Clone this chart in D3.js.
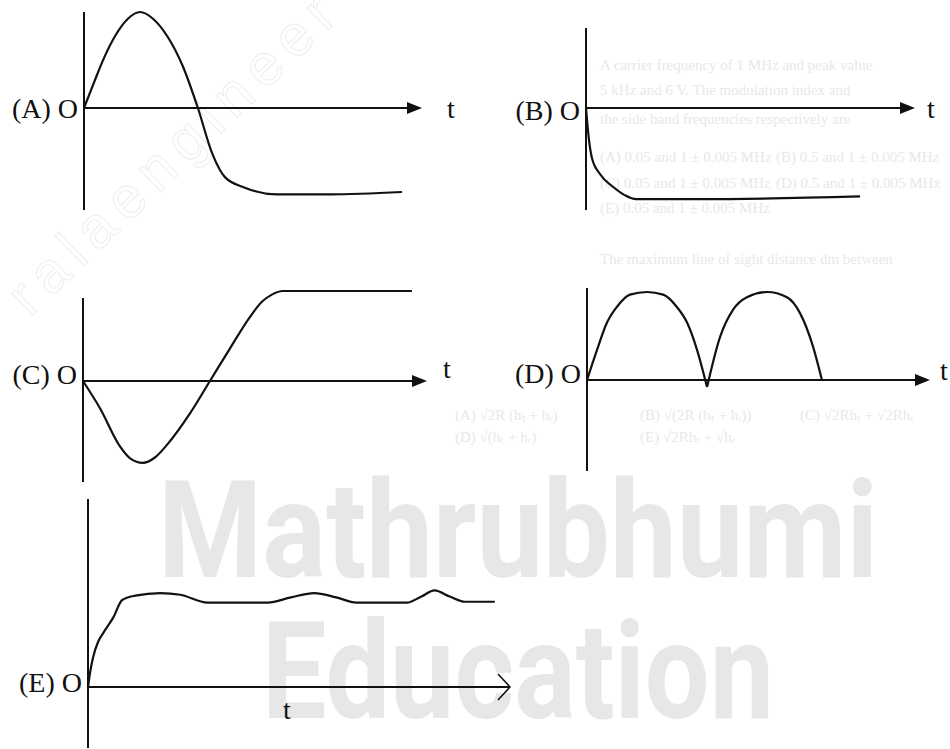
<!DOCTYPE html>
<html>
<head>
<meta charset="utf-8">
<script src="https://cdn.jsdelivr.net/npm/d3@7"></script>
<style>
    html, body { margin: 0; padding: 0; background: #fff; }
    svg { display: block; }
</style>
</head>
<body>
<svg id="drawing_region"></svg>
<script>
// time runs 0..100 along each t axis, values are relative to the panel's height unit
const aTime  = [0, 3.0, 5.9, 9.2, 13, 16.6, 20.4, 24.6, 29.3, 33.7, 37.9, 41.7, 47.6, 57.1, 72.8, 94.1];
const aValue = [0, 0.27, 0.52, 0.75, 0.93, 1.0, 0.93, 0.75, 0.43, 0, -0.47, -0.72, -0.83, -0.9, -0.9, -0.875];

const bTime  = [0, 0.45, 0.9, 1.8, 4.3, 8.2, 11.9, 15.2, 34.7, 83.3];
const bValue = [0, -0.18, -0.33, -0.52, -0.69, -0.82, -0.91, -0.95, -0.95, -0.92];

const cTime  = [0, 4.9, 10.8, 13.7, 17.4, 20.9, 24.4, 31.1, 36.9, 42.7, 48.5, 52, 54.9, 58.1, 95.6];
const cValue = [0, -0.3, -0.73, -0.86, -0.91, -0.85, -0.71, -0.36, 0, 0.36, 0.71, 0.88, 0.96, 1.0, 1.0];

const dTime  = [0, 2.9, 5.8, 8.7, 12.5, 17.5, 22.2, 26.2, 29.2, 32.1, 35, 38.8, 42.6, 46.6, 52.5, 58.3, 62.1, 65.9, 68.5];
const dValue = [0, 0.34, 0.65, 0.83, 0.97, 1.0, 0.97, 0.83, 0.65, 0.34, -0.08, 0.49, 0.8, 0.94, 1.0, 0.94, 0.76, 0.38, 0];

const eTime  = [0, 0.5, 1.2, 2.4, 3.6, 6, 8.1, 11.2, 17.1, 21.9, 28.3, 42.6, 48.1, 53.6, 58.8, 63.6, 75.5, 79, 82.1, 85.7, 89.3, 96.4];
const eValue = [0, 0.17, 0.34, 0.52, 0.62, 0.8, 1.0, 1.05, 1.08, 1.06, 0.97, 0.97, 1.03, 1.08, 1.03, 0.97, 0.97, 1.04, 1.11, 1.04, 0.98, 0.98];

const panelLabels = ["(A) O", "(B) O", "(C) O", "(D) O", "(E) O"];
const axisLabel = "t";

const config = {
    parent: "#drawing_region",
    width: 950,
    height: 749
};

// layout of the five small graphs
const panels = [
    { label: panelLabels[0], time: aTime, value: aValue, x0: 84,  x1: 422, axisY: 108, unit: 96, yTop: 12,  yBot: 210, labelY: 118, tX: 447, tY: 118 },
    { label: panelLabels[1], time: bTime, value: bValue, x0: 586, x1: 915, axisY: 108, unit: 96, yTop: 28,  yBot: 210, labelY: 120, tX: 927, tY: 118 },
    { label: panelLabels[2], time: cTime, value: cValue, x0: 83,  x1: 427, axisY: 381, unit: 90, yTop: 298, yBot: 482, labelY: 384, tX: 443, tY: 378 },
    { label: panelLabels[3], time: dTime, value: dValue, x0: 587, x1: 930, axisY: 380, unit: 88, yTop: 288, yBot: 471, labelY: 383, tX: 940, tY: 380, split: true },
    { label: panelLabels[4], time: eTime, value: eValue, x0: 88,  x1: 510, axisY: 687, unit: 87, yTop: 499, yBot: 748, labelY: 692, tX: 283, tY: 719, open: true }
];

const svg = d3.select(config.parent)
    .attr("width", config.width)
    .attr("height", config.height);

svg.append("rect")
    .attr("width", config.width)
    .attr("height", config.height)
    .attr("fill", "#fff");

// faint bleed-through of the printed page behind the figure
const backdrop = svg.append("g")
    .attr("font-family", "'Liberation Serif', 'Times New Roman', serif")
    .attr("font-size", 15)
    .attr("fill", "#e8e8e8");

[
    ["A carrier frequency of 1 MHz and peak value", 600, 70],
    ["5 kHz and 6 V. The modulation index and", 600, 95],
    ["the side band frequencies respectively are", 600, 124],
    ["(A) 0.05 and 1 ± 0.005 MHz", 600, 162],
    ["(B) 0.5 and 1 ± 0.005 MHz", 776, 162],
    ["(C) 0.05 and 1 ± 0.005 MHz", 600, 188],
    ["(D) 0.5 and 1 ± 0.005 MHz", 776, 188],
    ["(E) 0.05 and 1 ± 0.005 MHz", 600, 213],
    ["The maximum line of sight distance dm between", 600, 264],
    ["(A) √2R (hₜ + hᵣ)", 455, 420],
    ["(B) √(2R (hₜ + hᵣ))", 640, 420],
    ["(C) √2Rhₜ + √2Rhᵣ", 800, 420],
    ["(D) √(hₜ + hᵣ)", 455, 442],
    ["(E) √2Rhₜ + √hᵣ", 640, 442]
].forEach(([txt, x, y]) => {
    backdrop.append("text").attr("x", x).attr("y", y).text(txt);
});

svg.append("text")
    .attr("transform", "translate(30,318) rotate(-44)")
    .attr("font-family", "'Liberation Sans', sans-serif")
    .attr("font-size", 58)
    .attr("fill", "none")
    .attr("stroke", "#efefef")
    .attr("stroke-width", 1.1)
    .attr("textLength", 430)
    .attr("lengthAdjust", "spacing")
    .text("ralaengineer");

// big watermark, stretched to the width it has in the scan
const watermark = [
    { text: "Mathrubhumi", x: 158, y: 577, width: 720 },
    { text: "Education",   x: 262, y: 718, width: 512 }
];

watermark.forEach(w => {
    const t = svg.append("text")
        .attr("font-family", "'Liberation Sans Narrow', 'Roboto', 'Liberation Sans', sans-serif")
        .attr("font-weight", "bold")
        .attr("font-size", 135)
        .attr("fill", "#e7e7e7")
        .text(w.text);
    const natural = t.node().getComputedTextLength() || w.width;
    t.attr("transform", `translate(${w.x},${w.y}) scale(${w.width / natural},1)`);
});

const ink = "#111";

panels.forEach(p => {
    const x = d3.scaleLinear().domain([0, 100]).range([p.x0, p.x1]);
    const y = d3.scaleLinear().domain([-1, 1]).range([p.axisY + p.unit, p.axisY - p.unit]);

    const g = svg.append("g");

    // vertical axis
    g.append("line")
        .attr("x1", p.x0).attr("x2", p.x0)
        .attr("y1", p.yTop).attr("y2", p.yBot)
        .attr("stroke", ink)
        .attr("stroke-width", 2);

    // t axis
    g.append("line")
        .attr("x1", p.x0).attr("x2", x(100) - (p.open ? 1 : 8))
        .attr("y1", y(0)).attr("y2", y(0))
        .attr("stroke", ink)
        .attr("stroke-width", 2);

    const tip = x(100);
    if (p.open) {
        g.append("path")
            .attr("d", `M${tip - 12},${y(0) - 13}L${tip},${y(0)}L${tip - 12},${y(0) + 13}`)
            .attr("fill", "none")
            .attr("stroke", ink)
            .attr("stroke-width", 1.6);
    } else {
        g.append("path")
            .attr("d", `M${tip},${y(0)}L${tip - 15},${y(0) - 6}L${tip - 15},${y(0) + 6}Z`)
            .attr("fill", ink);
    }

    // curve, split at the cusps where needed
    const pts = p.time.map((t, i) => [t, p.value[i]]);
    let segments = [pts];
    if (p.split) {
        segments = [];
        let cur = [];
        pts.forEach((d, i) => {
            cur.push(d);
            if (i > 0 && i < pts.length - 1 && d[1] <= 0) {
                segments.push(cur);
                cur = [d];
            }
        });
        segments.push(cur);
    }

    const line = d3.line()
        .x(d => x(d[0]))
        .y(d => y(d[1]))
        .curve(d3.curveMonotoneX);

    g.selectAll("path.curve")
        .data(segments)
        .enter()
        .append("path")
        .attr("class", "curve")
        .attr("d", line)
        .attr("fill", "none")
        .attr("stroke", ink)
        .attr("stroke-width", 2.2)
        .attr("stroke-linejoin", "round");

    g.append("text")
        .attr("x", p.x0 - 6)
        .attr("y", p.labelY)
        .attr("text-anchor", "end")
        .attr("font-family", "'Liberation Serif', 'Times New Roman', serif")
        .attr("font-size", 28)
        .attr("fill", ink)
        .text(p.label);

    g.append("text")
        .attr("x", p.tX)
        .attr("y", p.tY)
        .attr("font-family", "'Liberation Serif', 'Times New Roman', serif")
        .attr("font-size", 28)
        .attr("fill", ink)
        .text(axisLabel);
});
</script>
</body>
</html>
